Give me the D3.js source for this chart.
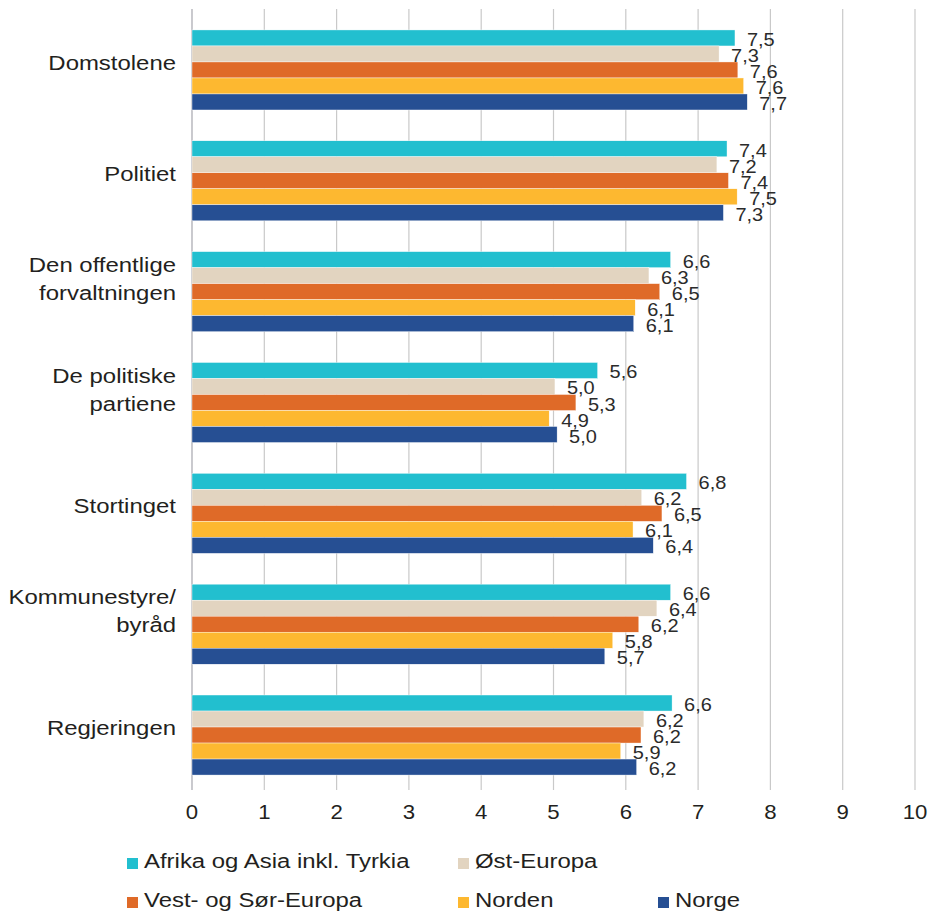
<!DOCTYPE html>
<html><head><meta charset="utf-8">
<script src="https://cdn.jsdelivr.net/npm/d3@7"></script>
<style>body{margin:0;background:#fff}svg{display:block;font-family:"Liberation Sans",Arial,sans-serif}</style>
</head><body>
<svg id="c" width="936" height="912"></svg>
<script>
const categories = [["Domstolene"],["Politiet"],["Den offentlige","forvaltningen"],["De politiske","partiene"],["Stortinget"],["Kommunestyre/","byråd"],["Regjeringen"]];
const seriesNames = ["Afrika og Asia inkl. Tyrkia","Øst-Europa","Vest- og Sør-Europa","Norden","Norge"];
const seriesColors = ["#22bfcf","#e2d4c0","#df6a28","#fdb830","#264f93"];
const afrikaAsia = [7.51,7.40,6.62,5.61,6.84,6.62,6.64];
const ostEuropa  = [7.29,7.26,6.32,5.02,6.22,6.43,6.25];
const vestSor    = [7.55,7.42,6.47,5.31,6.50,6.18,6.21];
const norden     = [7.63,7.54,6.13,4.94,6.10,5.82,5.93];
const norge      = [7.68,7.35,6.11,5.05,6.38,5.71,6.15];
const labelsAfrika = ["7,5","7,4","6,6","5,6","6,8","6,6","6,6"];
const labelsOst    = ["7,3","7,2","6,3","5,0","6,2","6,4","6,2"];
const labelsVest   = ["7,6","7,4","6,5","5,3","6,5","6,2","6,2"];
const labelsNorden = ["7,6","7,5","6,1","4,9","6,1","5,8","5,9"];
const labelsNorge  = ["7,7","7,3","6,1","5,0","6,4","5,7","6,2"];
const xTicks = [0,1,2,3,4,5,6,7,8,9,10];

const values = [afrikaAsia, ostEuropa, vestSor, norden, norge];
const labels = [labelsAfrika, labelsOst, labelsVest, labelsNorden, labelsNorge];

const svg = d3.select("#c");
const SX = 1.11;
const x = d3.scaleLinear().domain([0,10]).range([192,915]);
const y = d3.scaleBand().domain(d3.range(categories.length)).range([10,795]).paddingInner(0.278).paddingOuter(0.18);
const ys = d3.scaleBand().domain(d3.range(seriesNames.length)).range([0,y.bandwidth()]);

// gridlines
svg.append("g").selectAll("line").data(xTicks).join("line")
  .attr("x1",d=>x(d)).attr("x2",d=>x(d)).attr("y1",9).attr("y2",790)
  .attr("stroke",d=>d===0?"#a6a6ad":"#c9c9c9").attr("stroke-width",1.2);

// tick labels
svg.append("g").selectAll("text").data(xTicks).join("text")
  .attr("transform",d=>`translate(${x(d)},819) scale(${SX},1)`)
  .attr("text-anchor","middle").attr("font-size",20).attr("fill","#231f20").text(d=>d);

// bars
const groups = svg.append("g").selectAll("g").data(categories).join("g")
  .attr("transform",(d,i)=>`translate(0,${y(i)})`);
groups.each(function(cat,ci){
  const g = d3.select(this);
  seriesNames.forEach((s,si)=>{
    g.append("rect").attr("x",x(0)).attr("y",ys(si)).attr("width",x(values[si][ci])-x(0))
      .attr("height",ys.bandwidth()).attr("fill",seriesColors[si])
      .attr("stroke","#fff").attr("stroke-width",0.4);
  });
  seriesNames.forEach((s,si)=>{
    g.append("text").attr("transform",`translate(${x(values[si][ci])+12},${ys(si)+ys.bandwidth()/2+8}) scale(${SX},1)`)
      .attr("font-size",18).attr("fill","#2b2b2b").text(labels[si][ci]);
  });
});

// category labels
categories.forEach((lines,ci)=>{
  const c = y(ci)+y.bandwidth()/2;
  const offs = lines.length===1 ? [0] : [-20,8];
  lines.forEach((t,li)=>{
    svg.append("text").attr("transform",`translate(176,${c+offs[li]}) scale(1.14,1)`)
      .attr("text-anchor","end").attr("font-size",21).attr("fill","#231f20").text(t);
  });
});

// legend
const legendPos = [[127,858],[458,858],[127,897],[458,897],[658,897]];
const leg = svg.append("g");
seriesNames.forEach((s,i)=>{
  const [lx,ly] = legendPos[i];
  leg.append("rect").attr("x",lx).attr("y",ly).attr("width",11).attr("height",11).attr("fill",seriesColors[i]);
  leg.append("text").attr("transform",`translate(${lx+17},${ly+10}) scale(1.14,1)`)
    .attr("font-size",21).attr("fill","#231f20").text(s);
});
</script>
</body></html>
